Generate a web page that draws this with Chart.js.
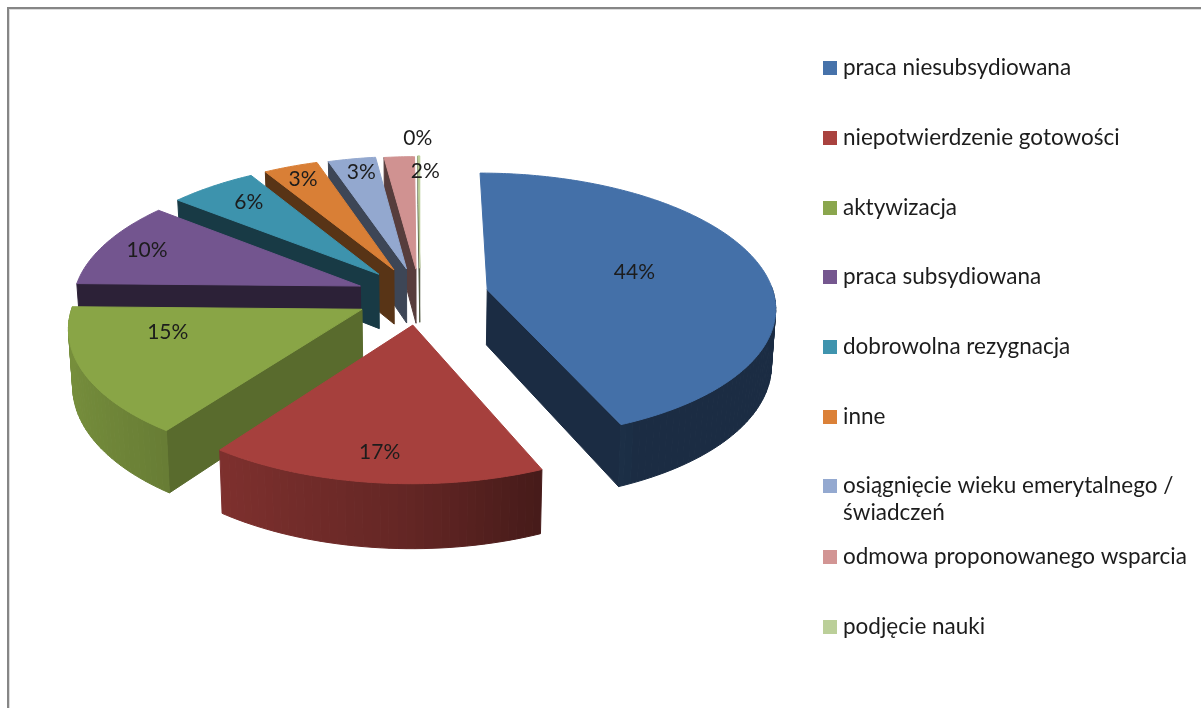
<!DOCTYPE html>
<html><head><meta charset="utf-8">
<script src="https://cdn.jsdelivr.net/npm/chart.js@4/dist/chart.umd.min.js"></script>
<style>html,body{margin:0;padding:0;background:#fff;overflow:hidden}canvas{display:block}</style>
</head><body>
<canvas id="c" width="1201" height="708"></canvas>
<script>
const categories = ["praca niesubsydiowana","niepotwierdzenie gotowości","aktywizacja","praca subsydiowana","dobrowolna rezygnacja","inne",["osiągnięcie wieku emerytalnego /","świadczeń"],"odmowa proponowanego wsparcia","podjęcie nauki"];
const shares = [43.6,16.4,15.3,10.5,5.6,3.49,3.05,1.94,0.12];
const percentLabels = ["44%","17%","15%","10%","6%","3%","3%","2%","0%"];
const sliceColors = ["#4470a8","#a6403d","#89a546","#73558f","#3d93ad","#d97f36","#93a8cf","#d09291","#b9cd96"];
const legendColors = ["#4672aa","#a9423f","#8aa64d","#75578f","#3f94ae","#db8138","#94a9d0","#d29594","#bbcf99"];
const explode = [69,62,64,64,64,64,62,60,62];
const cutShade = [.40,.40,.65,.39,.40,.41,.42,.42,.45];
const labelRadius = [.545,.817,.677,.847,.81,.89,.886,.876,1.195];
const labelTurn = [-5,.9,13.3,.8,1.6,0,.5,5.7,-.55];
const legendY = [67,137,207,276,346,416,485,556,626];

const K=.46,T=.12,DEPTH=55.5,SHRINK=.012,FONT='21px Lato',LEGEND_FONT='22.5px Lato',INK='#1c1c1c';
function shade(hex,f){const n=parseInt(hex.slice(1),16);return `rgb(${(n>>16&255)*f|0},${(n>>8&255)*f|0},${(n&255)*f|0})`;}
function sideLight(m){const c=Math.cos(m);return c<0?.6-.27*c:Math.max(.4,.6-.45*c);}

const pie3d={id:'pie3d',
  beforeDraw(chart){const c=chart.ctx;c.save();c.fillStyle='#fff';c.fillRect(0,0,1201,708);
    c.fillStyle='#dcdcdc';c.fillRect(9,9,1192,1);c.fillRect(9,9,1,699);
    c.fillStyle='#868686';c.fillRect(7,7,1194,2);c.fillRect(7,7,2,701);c.restore();},
  beforeDatasetDraw(chart,args){
    const c=chart.ctx,arcs=chart.getDatasetMeta(args.index).data;
    const pr=(a,u,v,low)=>{const R=a.outerRadius,s=1/(1-T*v/R),sx=low?s*(1-SHRINK):s;
      return [a.x+u*sx,a.y+v*K*s+(low?DEPTH*s:0)];};
    c.save();c.lineJoin='round';c.lineWidth=1;
    for(let i=arcs.length-1;i>=0;i--){
      const a=arcs[i],mid=(a.startAngle+a.endAngle)/2,e=a.options.offset,
        ox=Math.cos(mid)*e,oy=Math.sin(mid)*e,R=a.outerRadius;
      const pt=(ang,r,low)=>pr(a,ox+Math.cos(ang)*r,oy+Math.sin(ang)*r,low);
      const poly=(pts,col)=>{c.beginPath();pts.forEach((p,j)=>j?c.lineTo(p[0],p[1]):c.moveTo(p[0],p[1]));c.closePath();c.fillStyle=col;c.strokeStyle=col;c.fill();c.stroke();};
      const cut=shade(sliceColors[i],cutShade[i]);
      if(Math.cos(a.endAngle)>.02)poly([pt(a.endAngle,0,false),pt(a.endAngle,R,false),pt(a.endAngle,R,true),pt(a.endAngle,0,true)],cut);
      if(-Math.cos(a.startAngle)>.002)poly([pt(a.startAngle,0,false),pt(a.startAngle,R,false),pt(a.startAngle,R,true),pt(a.startAngle,0,true)],cut);
      const step=Math.PI/120;
      for(let t=a.startAngle;t<a.endAngle;t+=step){
        const t2=Math.min(t+step,a.endAngle),m=(t+t2)/2;
        if(Math.sin(m)<-.02)continue;
        poly([pt(t,R,false),pt(t2,R,false),pt(t2,R,true),pt(t,R,true)],shade(sliceColors[i],sideLight(m)));
      }
      const top=[pt(0,0,false)];
      for(let t=a.startAngle;t<a.endAngle;t+=step/2)top.push(pt(t,R,false));
      top.push(pt(a.endAngle,R,false));
      poly(top,sliceColors[i]);
    }
    c.restore();
    return false;
  },
  afterDatasetsDraw(chart){
    const c=chart.ctx,arcs=chart.getDatasetMeta(0).data;
    c.save();c.font=FONT;c.fillStyle=INK;c.textAlign='center';c.textBaseline='middle';
    arcs.forEach((a,i)=>{
      const mid=(a.startAngle+a.endAngle)/2,e=a.options.offset,R=a.outerRadius,
        ang=mid+labelTurn[i]*Math.PI/180,
        u=Math.cos(mid)*e+Math.cos(ang)*R*labelRadius[i],
        v=Math.sin(mid)*e+Math.sin(ang)*R*labelRadius[i],
        s=1/(1-T*v/R);
      c.fillText(percentLabels[i],a.x+u*s+2,a.y+v*K*s+2);
    });
    c.textAlign='left';c.font=LEGEND_FONT;
    categories.forEach((name,i)=>{
      c.fillStyle=legendColors[i];c.fillRect(823,legendY[i]-6,14,14);
      c.fillStyle=INK;
      [].concat(name).forEach((line,j)=>c.fillText(line,843,legendY[i]+1+j*27));
    });
    c.restore();
  }
};

new Chart(document.getElementById('c'),{
  type:'pie',
  data:{labels:categories,datasets:[{data:shares,backgroundColor:sliceColors,offset:explode,borderWidth:0,radius:287}]},
  options:{responsive:false,animation:false,rotation:0,
    layout:{padding:{left:0,top:0,right:361,bottom:116}},
    plugins:{legend:{display:false},tooltip:{enabled:false}}},
  plugins:[pie3d]
});
</script>
</body></html>
